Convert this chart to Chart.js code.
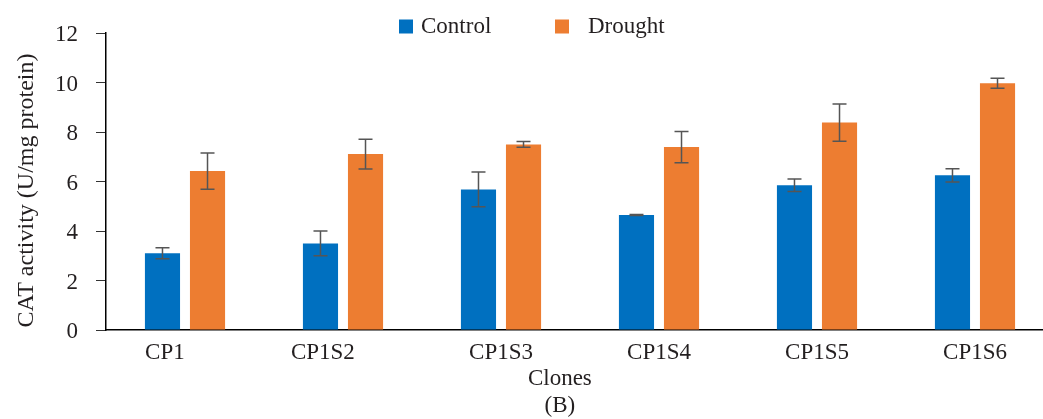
<!DOCTYPE html>
<html>
<head>
<meta charset="utf-8">
<script src="https://cdn.jsdelivr.net/npm/chart.js@4.4.1/dist/chart.umd.min.js"></script>
<style>
  html, body { margin: 0; padding: 0; background: #fff; overflow: hidden; }
</style>
</head>
<body>
<canvas id="myChart" width="1056" height="419"></canvas>
<script>
const clones = ['CP1', 'CP1S2', 'CP1S3', 'CP1S4', 'CP1S5', 'CP1S6'];
const control = [3.10, 3.50, 5.68, 4.65, 5.85, 6.25];
const controlErr = [0.22, 0.50, 0.70, 0.02, 0.25, 0.27];
const drought = [6.42, 7.11, 7.50, 7.39, 8.38, 9.97];
const droughtErr = [0.73, 0.60, 0.12, 0.63, 0.75, 0.20];
const yTicks = [0, 2, 4, 6, 8, 10, 12];

const serif = "'Liberation Serif', 'Times New Roman', serif";
const textColor = '#231f20';

// whiskers for the +/- error of each bar
const errorBars = {
    id: 'errorBars',
    afterDatasetsDraw(chart) {
        const ctx = chart.ctx;
        const y = chart.scales.y;
        ctx.save();
        ctx.strokeStyle = '#555';
        ctx.lineWidth = 1.5;
        chart.data.datasets.forEach((ds, i) => {
            chart.getDatasetMeta(i).data.forEach((bar, j) => {
                const top = y.getPixelForValue(ds.data[j] + ds.errors[j]);
                const bot = y.getPixelForValue(ds.data[j] - ds.errors[j]);
                ctx.beginPath();
                ctx.moveTo(bar.x, top); ctx.lineTo(bar.x, bot);
                ctx.moveTo(bar.x - 7, top); ctx.lineTo(bar.x + 7, top);
                ctx.moveTo(bar.x - 7, bot); ctx.lineTo(bar.x + 7, bot);
                ctx.stroke();
            });
        });
        ctx.restore();
    }
};

// legend drawn by hand, the gaps in the original are uneven
const legendRow = {
    id: 'legendRow',
    afterDraw(chart) {
        const ctx = chart.ctx;
        const slots = [{ x: 399, gap: 8 }, { x: 555, gap: 19 }];
        ctx.save();
        ctx.font = '23px ' + serif;
        ctx.textBaseline = 'alphabetic';
        chart.data.datasets.forEach((ds, i) => {
            const s = slots[i];
            ctx.fillStyle = ds.backgroundColor;
            ctx.fillRect(s.x, 19.5, 14, 14);
            ctx.fillStyle = textColor;
            ctx.fillText(ds.label, s.x + 14 + s.gap, 33);
        });
        ctx.restore();
    }
};

const myChartRef = document.getElementById('myChart').getContext('2d');
new Chart(myChartRef, {
    type: 'bar',
    data: {
        labels: clones,
        datasets: [{
            label: 'Control',
            data: control,
            errors: controlErr,
            backgroundColor: '#0070c0'
        }, {
            label: 'Drought',
            data: drought,
            errors: droughtErr,
            backgroundColor: '#ed7d31'
        }]
    },
    options: {
        responsive: false,
        animation: false,
        categoryPercentage: 0.57,
        barPercentage: 0.78,
        layout: { padding: { top: 33, right: 2, bottom: 0, left: 0 } },
        plugins: {
            legend: { display: false },
            tooltip: { enabled: false }
        },
        scales: {
            x: {
                afterFit: (scale) => { scale.height = 89; },
                grid: { display: false, tickLength: 0 },
                border: { display: true, color: '#000', width: 1.5 },
                ticks: {
                    padding: 9,
                    color: textColor,
                    font: { family: serif, size: 23 },
                    // the first two labels sit a bit left of their bars in the original
                    callback: function (value, index) {
                        const label = this.getLabelForValue(value);
                        return index < 2 ? label + '       ' : label;
                    }
                },
                title: {
                    display: true,
                    text: ['Clones       ', '(B)       '],
                    color: textColor,
                    font: { family: serif, size: 23, lineHeight: 1.15 },
                    padding: { top: 0, bottom: 0 }
                }
            },
            y: {
                afterFit: (scale) => { scale.width = 106; },
                min: yTicks[0],
                max: yTicks[yTicks.length - 1],
                ticks: {
                    stepSize: yTicks[1] - yTicks[0],
                    padding: 18,
                    labelOffset: 2,
                    color: textColor,
                    font: { family: serif, size: 23 }
                },
                grid: {
                    drawOnChartArea: false,
                    drawTicks: true,
                    tickLength: 10,
                    color: '#333',
                    lineWidth: 1
                },
                border: { display: true, color: '#000', width: 1.5 },
                title: {
                    display: true,
                    text: 'CAT activity (U/mg protein)   ',
                    color: textColor,
                    font: { family: serif, size: 24, lineHeight: 1.2 },
                    padding: { top: 12.6, bottom: 14.6 }
                }
            }
        }
    },
    plugins: [errorBars, legendRow]
});
</script>
</body>
</html>
